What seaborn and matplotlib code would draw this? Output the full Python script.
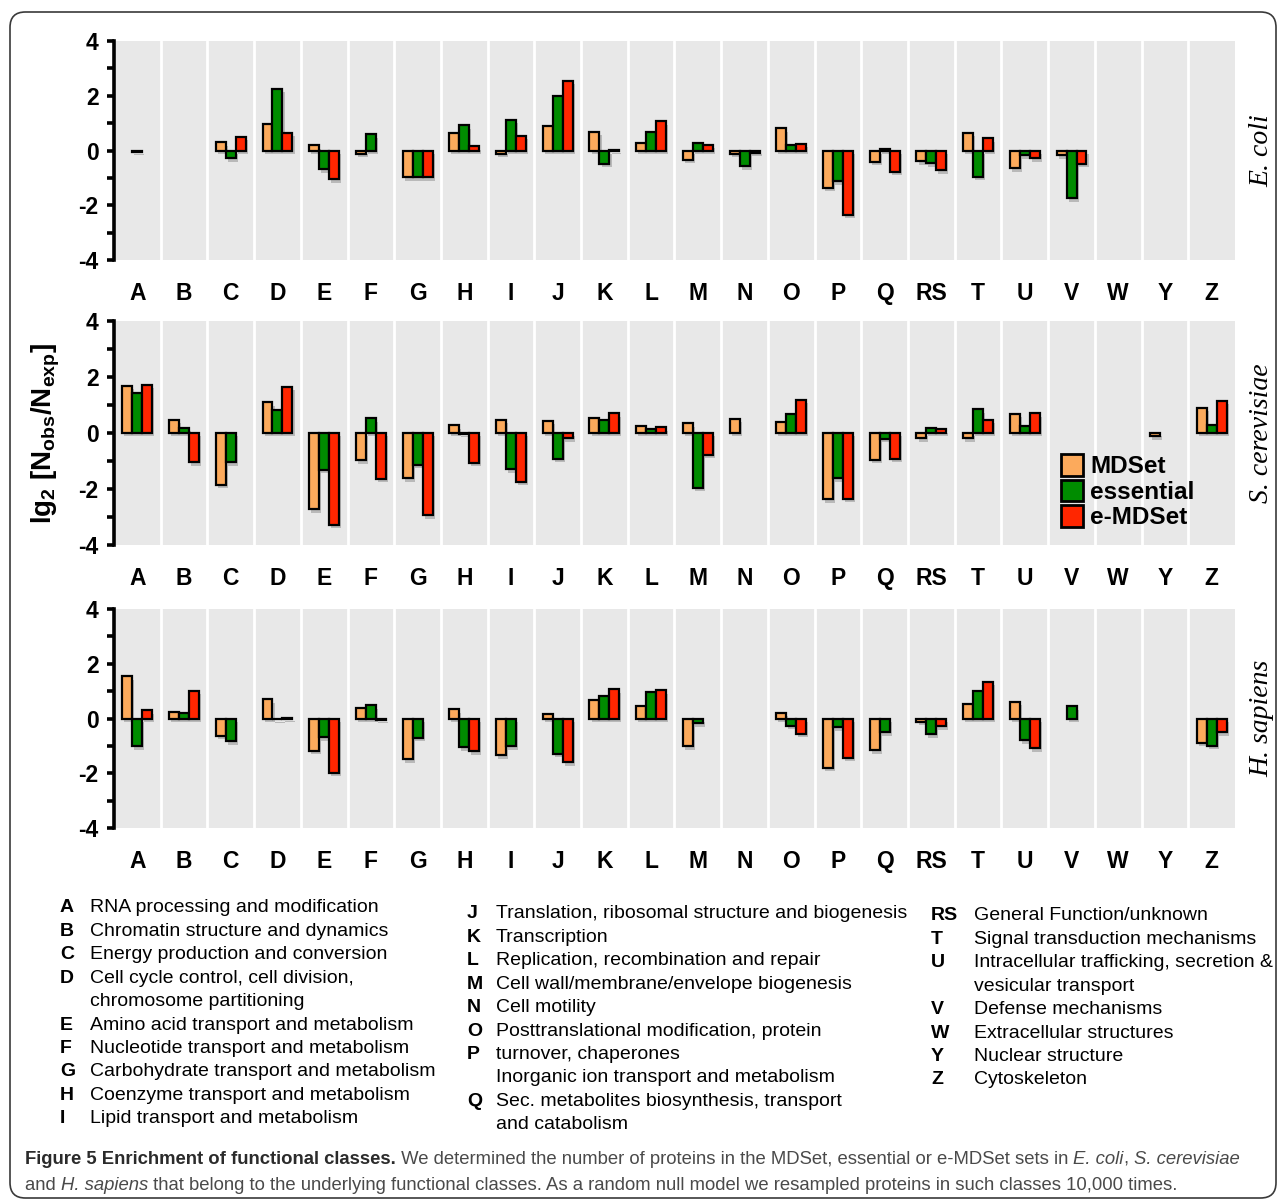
import numpy as np
import pandas as pd
import matplotlib
matplotlib.use("Agg")
import matplotlib.pyplot as plt
import seaborn as sns
from matplotlib import patheffects as pe
from matplotlib.patches import FancyBboxPatch, Patch
from matplotlib.ticker import MultipleLocator, FormatStrFormatter
from matplotlib import font_manager as fm

# ---------------------------------------------------------------- data
categories = ["A", "B", "C", "D", "E", "F", "G", "H", "I", "J", "K", "L",
              "M", "N", "O", "P", "Q", "RS", "T", "U", "V", "W", "Y", "Z"]
set_names = ["MDSet", "essential", "e-MDSet"]
set_colors = ["#FCAA5C", "#008C00", "#FF2600"]
nan = np.nan

# lg2(N_obs / N_exp) per functional class
ecoli_mdset = [nan, nan, 0.30, 0.97, 0.19, -0.11, -0.97, 0.63, -0.11, 0.91, 0.68, 0.27,
               -0.34, -0.12, 0.81, -1.37, -0.41, -0.40, 0.65, -0.65, -0.18, nan, nan, nan]
ecoli_essential = [-0.05, nan, -0.28, 2.25, -0.69, 0.59, -0.97, 0.92, 1.13, 1.98, -0.48, 0.67,
                   0.27, -0.57, 0.21, -1.12, 0.07, -0.46, -0.95, -0.18, -1.75, nan, nan, nan]
ecoli_emdset = [nan, nan, 0.51, 0.64, -1.05, nan, -0.97, 0.16, 0.53, 2.55, 0.03, 1.07,
                0.21, -0.08, 0.24, -2.35, -0.78, -0.73, 0.45, -0.28, -0.48, nan, nan, nan]

yeast_mdset = [1.69, 0.47, -1.85, 1.09, -2.72, -0.98, -1.61, 0.27, 0.47, 0.44, 0.52, 0.25,
               0.34, 0.50, 0.41, -2.36, -0.95, -0.19, -0.19, 0.69, nan, nan, -0.11, 0.90]
yeast_essential = [1.43, 0.19, -1.04, 0.83, -1.32, 0.52, -1.14, -0.02, -1.30, -0.92, 0.47, 0.14,
                   -1.95, nan, 0.69, -1.61, -0.21, 0.18, 0.84, 0.25, nan, nan, nan, 0.30]
yeast_emdset = [1.73, -1.04, nan, 1.65, -3.27, -1.64, -2.93, -1.07, -1.75, -0.18, 0.70, 0.21,
                -0.78, nan, 1.18, -2.35, -0.92, 0.14, 0.47, 0.70, nan, nan, nan, 1.16]

human_mdset = [1.54, 0.24, -0.63, 0.71, -1.18, 0.40, -1.49, 0.33, -1.34, 0.16, 0.66, 0.45,
               -1.02, nan, 0.20, -1.79, -1.16, -0.11, 0.54, 0.62, nan, nan, nan, -0.88]
human_essential = [-1.01, 0.21, -0.83, -0.02, -0.68, 0.49, -0.71, -1.05, -1.02, -1.28, 0.83, 0.95,
                   -0.17, nan, -0.26, -0.32, -0.51, -0.57, 1.02, -0.79, 0.44, nan, nan, -0.99]
human_emdset = [0.30, 1.02, nan, 0.03, -1.99, -0.05, nan, -1.20, nan, -1.60, 1.06, 1.04,
                nan, nan, -0.55, -1.43, nan, -0.29, 1.35, -1.09, nan, nan, nan, -0.51]

species = ["E. coli", "S. cerevisiae", "H. sapiens"]
species_values = [
    [ecoli_mdset, ecoli_essential, ecoli_emdset],
    [yeast_mdset, yeast_essential, yeast_emdset],
    [human_mdset, human_essential, human_emdset],
]

# class descriptions printed under the panels
col1_codes = ["A", "B", "C", "D", "", "E", "F", "G", "H", "I"]
col1_text = ["RNA processing and modification", "Chromatin structure and dynamics",
             "Energy production and conversion", "Cell cycle control, cell division,",
             "chromosome partitioning", "Amino acid transport and metabolism",
             "Nucleotide transport and metabolism", "Carbohydrate transport and metabolism",
             "Coenzyme transport and metabolism", "Lipid transport and metabolism"]
col2_codes = ["J", "K", "L", "M", "N", "O", "P", "", "Q", ""]
col2_text = ["Translation, ribosomal structure and biogenesis", "Transcription",
             "Replication, recombination and repair", "Cell wall/membrane/envelope biogenesis",
             "Cell motility", "Posttranslational modification, protein", "turnover, chaperones",
             "Inorganic ion transport and metabolism", "Sec. metabolites biosynthesis, transport",
             "and catabolism"]
col3_codes = ["RS", "T", "U", "", "V", "W", "Y", "Z"]
col3_text = ["General Function/unknown", "Signal transduction mechanisms",
             "Intracellular trafficking, secretion &", "vesicular transport",
             "Defense mechanisms", "Extracellular structures", "Nuclear structure", "Cytoskeleton"]

# ---------------------------------------------------------------- style
sns.set_theme(style="white")
plt.rcParams["font.family"] = ["Liberation Sans", "DejaVu Sans"]
plt.rcParams["mathtext.fontset"] = "custom"
plt.rcParams["mathtext.rm"] = "Liberation Sans"
plt.rcParams["mathtext.bf"] = "Liberation Sans:bold"
plt.rcParams["mathtext.it"] = "Liberation Sans:italic"

W, H = 1281, 1204
fig = plt.figure(figsize=(W / 100, H / 100), dpi=100)
fig.patch.set_facecolor("white")


def fx(px):
    return px / W


def fy(py):
    return 1 - py / H


# rounded frame around the whole figure
frame = FancyBboxPatch((fx(10), fy(1198)), fx(1276) - fx(10), fy(12) - fy(1198),
                       boxstyle="round,pad=0,rounding_size=0.012",
                       mutation_aspect=W / H, transform=fig.transFigure,
                       facecolor="none", edgecolor="#3a3a3a", linewidth=1.2)
fig.patches.append(frame)

panel_tops = [41, 321, 609]
panel_bottoms = [260, 545, 828]
ax_left, ax_right = 114, 1235

axes = []
for k, name in enumerate(species):
    ax = fig.add_axes([fx(ax_left), fy(panel_bottoms[k]), fx(ax_right) - fx(ax_left),
                       fy(panel_tops[k]) - fy(panel_bottoms[k])])
    axes.append(ax)
    rows = []
    for s, vals in zip(set_names, species_values[k]):
        for c, v in zip(categories, vals):
            rows.append({"category": c, "set": s, "value": v})
    df = pd.DataFrame(rows).dropna()

    sns.barplot(data=df, x="category", y="value", hue="set", order=categories,
                hue_order=set_names, palette=set_colors, saturation=1, width=0.64,
                edgecolor="black", linewidth=1.6, errorbar=None, legend=False, ax=ax)
    for p in ax.patches:
        p.set_path_effects([pe.SimplePatchShadow(offset=(1.5, -2.5), shadow_rgbFace="black",
                                                 alpha=0.2), pe.Normal()])

    ax.set_facecolor("#E8E8E8")
    for i in range(len(categories) - 1):
        ax.axvline(i + 0.5, color="white", linewidth=2, zorder=0.5)
    ax.set_xlim(-0.5, len(categories) - 0.5)
    ax.set_ylim(-4, 4)
    ax.yaxis.set_major_locator(MultipleLocator(2))
    ax.yaxis.set_minor_locator(MultipleLocator(1))
    ax.yaxis.set_major_formatter(FormatStrFormatter("%d"))
    for side in ["top", "right", "bottom"]:
        ax.spines[side].set_visible(False)
    ax.spines["left"].set_color("black")
    ax.spines["left"].set_linewidth(2.6)
    ax.tick_params(axis="y", which="both", direction="out", length=5, width=2.6,
                   color="black", left=True)
    ax.tick_params(axis="y", which="major", labelsize=16.5, pad=6)
    ax.tick_params(axis="x", length=0, labelsize=16.5, pad=16)
    for lab in ax.get_yticklabels() + ax.get_xticklabels():
        lab.set_fontweight("bold")
        lab.set_color("black")
    ax.set_xlabel("")
    ax.set_ylabel("")

    fig.text(fx(1262), fy((panel_tops[k] + panel_bottoms[k]) / 2), name, rotation=90,
             ha="center", va="center", fontsize=20, style="italic",
             family=["Liberation Serif", "DejaVu Serif"], color="black")

# legend inside the middle panel
handles = [Patch(facecolor=c, edgecolor="black", linewidth=2) for c in set_colors]
axes[1].legend(handles, set_names, loc="upper left", bbox_to_anchor=(0.845, 0.405),
               frameon=False, prop={"weight": "bold", "size": 17.5}, handlelength=0.9,
               handleheight=1.0, handletextpad=0.3, labelspacing=0.05,
               borderpad=0, borderaxespad=0, labelcolor="black")

fig.text(fx(46), fy(434), r"$\mathbf{lg_2\ [N_{obs}/N_{exp}]}$", rotation=90,
         ha="center", va="center", fontsize=20, color="black")

# class description columns
def text_column(codes, texts, x_code, x_text, y0, dy=23.4):
    for j, (c, t) in enumerate(zip(codes, texts)):
        y = fy(y0 + j * dy)
        if c:
            fig.text(fx(x_code), y, c, ha="left", va="center", fontsize=14.0,
                     fontweight="bold", color="black")
        fig.text(fx(x_text), y, t, ha="left", va="center", fontsize=14.0, color="black")


text_column(col1_codes, col1_text, 60, 90, 908)
text_column(col2_codes, col2_text, 467, 496, 914)
text_column(col3_codes, col3_text, 931, 974, 916)

# caption with mixed styles
names = {f.name for f in fm.fontManager.ttflist}
cap_family = "Liberation Sans Narrow" if "Liberation Sans Narrow" in names else "Liberation Sans"
renderer = fig.canvas.get_renderer()

line1 = [("Figure 5 Enrichment of functional classes.", "bold", "normal", "#2b2b2b"),
         (" We determined the number of proteins in the MDSet, essential or e-MDSet sets in ",
          "normal", "normal", "#4a4a4a"),
         ("E. coli", "normal", "italic", "#4a4a4a"),
         (", ", "normal", "normal", "#4a4a4a"),
         ("S. cerevisiae", "normal", "italic", "#4a4a4a")]
line2 = [("and ", "normal", "normal", "#4a4a4a"),
         ("H. sapiens", "normal", "italic", "#4a4a4a"),
         (" that belong to the underlying functional classes. As a random null model we "
          "resampled proteins in such classes 10,000 times.", "normal", "normal", "#4a4a4a")]


def draw_line(pieces, x0, y, size):
    x = fx(x0)
    made = []
    for s, w, st, col in pieces:
        t = fig.text(x, fy(y), s, ha="left", va="center", fontsize=size, fontweight=w,
                     style=st, family=cap_family, color=col)
        bb = t.get_window_extent(renderer=renderer)
        x += bb.width / W
        made.append(t)
    return made, x * W - x0


base = 13.0
made, width = draw_line(line1, 25, 1159, base)
for t in made:
    t.remove()
size = base * (1243 - 25) / width
draw_line(line1, 25, 1159, size)
draw_line(line2, 25, 1186, size)

fig.savefig("out.png", dpi=100, facecolor="white")
